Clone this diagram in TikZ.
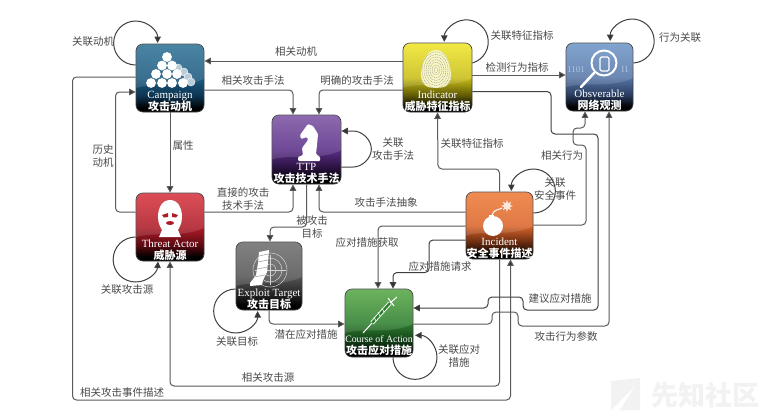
\documentclass[tikz,border=0pt]{standalone}
\usepackage{fontspec}
\setmainfont{Liberation Serif}
\newfontfamily\cjk{Noto Sans CJK SC}
\usetikzlibrary{arrows.meta,calc}
\definecolor{linec}{HTML}{5A5A5A}
\definecolor{textc}{HTML}{4A4A4A}
\newcommand\mkshade[4]{%
 \definecolor{#1top}{HTML}{#2}\definecolor{#1mid}{HTML}{#3}\definecolor{#1low}{HTML}{#4}%
 \pgfdeclareverticalshading{sh#1}{100bp}{color(0bp)=(black);color(28bp)=(black);color(37bp)=(#1low);color(50bp)=(#1mid);color(75bp)=(#1top);color(100bp)=(#1top)}}
\mkshade{camp}{2F7397}{1D5A80}{0C3552}
\mkshade{ttp}{7D54A4}{5B2F88}{2A1240}
\mkshade{ind}{EFE62A}{C9BE18}{5E5806}
\mkshade{obs}{6F97C9}{5777A8}{2A3D60}
\mkshade{threat}{D8343E}{AE1C28}{5F0A12}
\mkshade{expl}{6F6F70}{565657}{262626}
\mkshade{coa}{57A846}{2E7F2E}{123F18}
\mkshade{inc}{EE7B38}{DC652B}{63290F}
\tikzset{
 box/.style={rectangle,rounded corners=7pt,draw=black!75,line width=.7pt,inner sep=0pt},
 conn/.style={draw=linec,line width=1pt,rounded corners=4pt,-{Triangle[width=6.5pt,length=6.5pt,fill=black!80]}},
 conndark/.style={conn,draw=black!75},
 lbl/.style={text=textc,font=\cjk\fontsize{10.5}{12.5}\selectfont,align=center,inner sep=0pt},
 boxlab/.style={text=white,font=\fontsize{11}{12}\selectfont,align=center,inner sep=0pt,anchor=south},
 wm/.style={text=black!5,font=\cjk\bfseries\fontsize{27}{27}\selectfont,inner sep=0pt}
}
\newcommand\gloss[1]{\fill[white,opacity=.13] ([xshift=5pt]#1.north west) -- ([xshift=-5pt]#1.north east) to[out=-45,in=90] ([yshift=-1pt,xshift=-.5pt]#1.east) .. controls ([yshift=-12pt,xshift=-25pt]#1.east) and ([yshift=-4pt,xshift=20pt]#1.west) .. ([yshift=-10pt,xshift=.5pt]#1.west) -- ([yshift=26pt,xshift=.5pt]#1.west) to[out=90,in=-135] cycle;}
\newcommand\eggpath{(436,50) .. controls (446,50) and (451,64) .. (451,76) .. controls (451,85) and (445,88) .. (436,88) .. controls (427,88) and (421,85) .. (421,76) .. controls (421,64) and (426,50) .. cycle}
\begin{document}
\begin{tikzpicture}[x=1pt,y=-1pt]
\useasboundingbox (0,0) rectangle (776,415);
\fill[white] (0,0) rectangle (776,415);
% watermark
\fill[black!5] (611,381) -- (640,378) -- (640,410) -- (620,410) -- (636,385) -- (611,410) -- cycle;
\node[wm] (wmark) at (705,395) {先知社区};
% boxes
\node[box,minimum width=68pt,minimum height=68pt,shading=shcamp] (camp) at (170,78) {};
\node[box,minimum width=69pt,minimum height=69pt,shading=shttp] (ttp) at (306.5,149.5) {};
\node[box,minimum width=69pt,minimum height=69pt,shading=shind] (ind) at (437.5,77.5) {};
\node[box,minimum width=67pt,minimum height=68pt,shading=shobs] (obs) at (599.5,77) {};
\node[box,minimum width=68pt,minimum height=68pt,shading=shthreat] (threat) at (170,227) {};
\node[box,minimum width=66pt,minimum height=68pt,shading=shexpl] (expl) at (269,276) {};
\node[box,minimum width=68pt,minimum height=68pt,shading=shcoa] (coa) at (379,323) {};
\node[box,minimum width=67pt,minimum height=67pt,shading=shinc] (inc) at (499.5,225.5) {};
\gloss{camp}\gloss{ttp}\gloss{ind}\gloss{obs}\gloss{threat}\gloss{expl}\gloss{coa}\gloss{inc}
% campaign icon
\foreach \cx/\cy in {178/68,184/72,188/77,191/82}
  \filldraw[fill=white!70!campmid,draw=white,line width=.4pt] (\cx,\cy) circle[radius=4pt];
\foreach \cx/\cy in {167,56/167,162,65/162,172,65/172}{}
\foreach \cx/\cy in {167/57,162/65.5,172/65.5,156/74,167/74,177/74,151/83,162/83,172/83,183/83}
  \fill[white] (\cx,\cy) circle[radius=4.9pt];
% knight
\fill[white,rounded corners=1pt] (308,124) -- (300,135) -- (301,139) -- (307,137) -- (308,140) -- (302,148) -- (303,155) -- (298,157) -- (298,161) -- (320,161) -- (320,157) -- (316,154) -- (317,145) -- (318,134) -- (313,126) -- cycle;
% fingerprint
\fill[white!72!indtop] \eggpath;
\begin{scope}
\clip \eggpath;
\foreach \r in {2,4,...,16}
  \draw[black!38,line width=.5pt,dash pattern=on 1pt off .8pt] (436,70) ellipse[x radius=\r pt,y radius=1.3*\r pt];
\end{scope}
% magnifier
\node[text=white!45!obstop,font=\fontsize{9}{9}\selectfont,inner sep=0pt] (bitsl) at (576,70) {1101};
\node[text=white!45!obstop,font=\fontsize{9}{9}\selectfont,inner sep=0pt] (bitsr) at (625,70) {I1};
\draw[white,line width=2pt] (604,63) circle[radius=12.5pt];
\draw[white,line width=2.5pt,line cap=round] (594,73) -- (581,87);
\draw[white,line width=1.3pt,rounded corners=1.5pt] (600,57) rectangle (609,71);
% balaclava
\fill[white] (170,200) .. controls (178,200) and (182,208) .. (182,217) .. controls (182,224) and (179,228) .. (178,230) -- (181,237) -- (159,237) -- (162,230) .. controls (161,228) and (158,224) .. (158,217) .. controls (158,208) and (162,200) .. cycle;
\fill[threatmid] (162,215) -- (168,213) -- (168,217) -- (164,217.5) -- cycle (178,215) -- (172,213) -- (172,217) -- (176,217.5) -- cycle;
\fill[threatmid] (170,223) ellipse[x radius=4pt,y radius=2pt];
% target and foot
\foreach \r in {6,12,17}
  \draw[white!70!expltop,line width=.5pt] (270,270) circle[radius=\r pt];
\draw[white!70!expltop,line width=.5pt] (255,270) -- (286,270) (270,255) -- (270,285);
\fill[white] (259,252) -- (269,250) -- (268,262) -- (267,272) -- (263,280) -- (262,285) -- (250,286) -- (250,283) -- (256,275) -- (258,263) -- cycle;
\draw[black!35,line width=.6pt] (259,256) -- (268.5,254) (258,262) -- (268,260) (257,269) -- (267.5,267) (254,277) -- (265,275);
% syringe
\draw[white,line width=4.2pt] (372,323) -- (390,303);
\draw[coamid,line width=2.4pt] (372,323) -- (390,303);
\draw[white,line width=.6pt] (374,317) -- (376,321) (378,312) -- (380,316) (382,308) -- (384,312);
\draw[white,line width=1pt] (363,333) -- (372,323) (388,298) -- (394,306) (390,303) -- (397,297);
% bomb
\fill[white] (493,226) circle[radius=10pt];
\fill[white] (489,215) rectangle (494,218);
\draw[white,line width=1pt] (492,215) .. controls (494,209) and (499,210) .. (502,208);
\fill[white!85!incmid] (507,206) +(0:6pt) -- +(20:3pt) -- +(45:6pt) -- +(65:3pt) -- +(90:6pt) -- +(110:3pt) -- +(135:6pt) -- +(155:3pt) -- +(180:6pt) -- +(200:3pt) -- +(225:6pt) -- +(245:3pt) -- +(270:6pt) -- +(290:3pt) -- +(315:6pt) -- +(335:3pt) -- cycle;
% box labels
\node[boxlab] (camplab) at ([yshift=1pt]camp.south) {Campaign\\{\cjk\bfseries 攻击动机}};
\node[boxlab] (ttplab) at ([yshift=1pt]ttp.south) {TTP\\{\cjk\bfseries 攻击技术手法}};
\node[boxlab] (indlab) at ([yshift=1pt]ind.south) {Indicator\\{\cjk\bfseries 威胁特征指标}};
\node[boxlab] (obslab) at ([yshift=1pt]obs.south) {Obsverable\\{\cjk\bfseries 网络观测}};
\node[boxlab] (threatlab) at ([yshift=1pt]threat.south) {Threat Actor\\{\cjk\bfseries 威胁源}};
\node[boxlab] (expllab) at ([yshift=1pt]expl.south) {Exploit Target\\{\cjk\bfseries 攻击目标}};
\node[boxlab] (coalab) at ([yshift=1pt]coa.south) {{\fontsize{9.8}{12}\selectfont Course of Action}\\{\cjk\bfseries 攻击应对措施}};
\node[boxlab] (inclab) at ([yshift=1pt]inc.south) {Incident\\{\cjk\bfseries 安全事件描述}};
% connectors
\draw[conn] ([yshift=16.5pt]ind.west) -- ([yshift=17pt]camp.east);
\draw[conn] ([yshift=-12pt]camp.east) -| ([xshift=-13.5pt]ttp.north);
\draw[conn] ([yshift=-12.5pt]ind.west) -| ([xshift=12.5pt]ttp.north);
\draw[conn] (camp.south) -- (threat.north);
\draw[conn] ([yshift=15pt]threat.west) -- (115.5,212) -- (115.5,92) -- ([yshift=-14pt]camp.west);
\draw[conn] ([yshift=1pt]camp.west) -- (72.5,77) -- (72.5,400) -- (510.5,400) -- ([xshift=11pt]inc.south);
\draw[conn] ([yshift=15pt]threat.east) -| ([xshift=-13.5pt]ttp.south);
\draw[conn] (ttp.south) -- (306.5,227) -| ([xshift=1pt]expl.north);
\draw[conn] ([yshift=13.5pt]inc.west) -| ([xshift=12.5pt]ttp.south);
\draw[conn] ([yshift=-.5pt]inc.west) -| ([xshift=-1pt]coa.north);
\draw[conndark] ([yshift=-14.5pt]inc.west) -- (429,240) -- (429,272.5) -| ([xshift=14pt]coa.north);
\draw[conn] (expl.south) |- ([yshift=-1pt]coa.west);
\draw[conn] (inc.south) -- (499.5,386) -- (170,386) -- (threat.south);
\draw[conndark] ([yshift=-14pt]ind.east) -- (551,91.5) -- (551,134) -- (598,134) -- (598,310) -- (523,310) -- (523,297) -- (488,297) -- (488,308) -- ([yshift=15pt]coa.east);
\draw[conn] ([yshift=-1pt]coa.east) -- (492,324) -- (492,312) -- (518,312) -- (518,326) -- (609,326) -- ([xshift=9.5pt]obs.south);
\draw[conn] ([yshift=.5pt]inc.east) -- (586,225) -- (586,145) -- (573,145) -- (573,128) -- (585,128) -- ([xshift=-14.5pt]obs.south);
\draw[conn] (inc.north) -- (499.5,169) -- (438,169) -- (ind.south);
\draw[conn] ([yshift=2.5pt]ind.east) -- ([yshift=2pt]obs.west);
% self loops
\draw[conndark] ([yshift=13pt]camp.west) arc[start angle=270,end angle=0,radius=22pt];
\draw[conndark] ([yshift=14.5pt]ind.east) arc[start angle=-74,end angle=180,radius=22pt];
\draw[conndark] ([yshift=14pt]obs.east) arc[start angle=-87,end angle=180,radius=22pt];
\draw[conndark] ([yshift=12.5pt]inc.east) arc[start angle=-90,end angle=180,radius=22pt];
\draw[conndark] ([yshift=-17.5pt]ttp.east) -- ++(8,0) arc[start angle=-90,end angle=90,x radius=22pt,y radius=18pt] -- ([yshift=18.5pt]ttp.east);
\draw[conndark] ([yshift=-10pt]threat.west) arc[start angle=90,end angle=355,radius=22.5pt];
\draw[conndark] ([yshift=-13pt]expl.west) arc[start angle=90,end angle=360,radius=22pt];
\draw[conndark] ([xshift=14pt]coa.south) arc[start angle=180,end angle=450,radius=22pt];
% labels
\node[lbl] (l1) at (93,42) {关联动机};
\node[lbl] (l2) at (296,52) {相关动机};
\node[lbl] (l3) at (253,81) {相关攻击手法};
\node[lbl] (l4) at (357,81) {明确的攻击手法};
\node[lbl] (l5) at (522,36) {关联特征指标};
\node[lbl] (l6) at (680,38) {行为关联};
\node[lbl] (l7) at (517,67) {检测行为指标};
\node[lbl] (l8) at (183,146) {属性};
\node[lbl] (l9) at (103,156) {历史\\动机};
\node[lbl] (l10) at (393,149) {关联\\攻击手法};
\node[lbl] (l11) at (472,144) {关联特征指标};
\node[lbl] (l12) at (562,156) {相关行为};
\node[lbl] (l13) at (555,189) {关联\\安全事件};
\node[lbl] (l14) at (243,199) {直接的攻击\\技术手法};
\node[lbl] (l15) at (386,202) {攻击手法抽象};
\node[lbl] (l16) at (312,227) {被攻击\\目标};
\node[lbl] (l17) at (367,243) {应对措施获取};
\node[lbl] (l18) at (440,267) {应对措施请求};
\node[lbl] (l19) at (127,290) {关联攻击源};
\node[lbl] (l20) at (237,342) {关联目标};
\node[lbl] (l21) at (306,335) {潜在应对措施};
\node[lbl] (l22) at (560,299) {建议应对措施};
\node[lbl] (l23) at (566,336) {攻击行为参数};
\node[lbl] (l24) at (459,356) {关联应对\\措施};
\node[lbl] (l25) at (268,378) {相关攻击源};
\node[lbl] (l26) at (122,393) {相关攻击事件描述};
\end{tikzpicture}
\end{document}
